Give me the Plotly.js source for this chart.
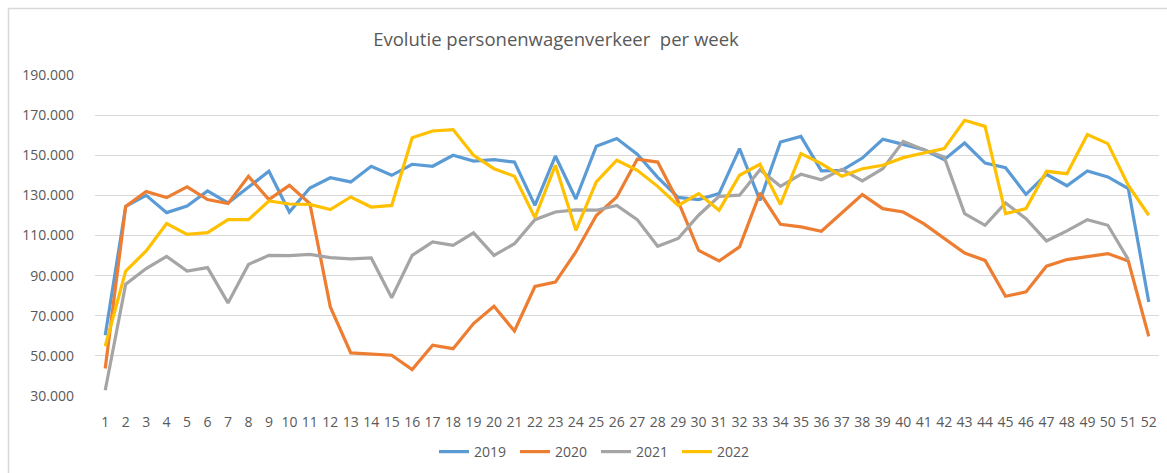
<!DOCTYPE html>
<html>
<head>
<meta charset="utf-8">
<script src="https://cdn.plot.ly/plotly-3.0.1.min.js"></script>
<style>
html,body{margin:0;padding:0;background:#fff;}
#chart{width:1167px;height:473px;}
</style>
</head>
<body>
<div id="chart"></div>
<script>
// Weekly passenger car traffic (values in thousands)
const weeks = Array.from({length: 52}, (_, i) => String(i + 1));
const seriesNames = ["2019", "2020", "2021", "2022"];
const y2019 = [60.3,124.5,130,121.4,124.7,132.2,126.2,134.2,142,121.7,133.7,138.8,136.7,144.5,140,145.5,144.5,150,147.1,147.8,146.6,125,149.6,128.2,154.5,158.3,150.5,139,129,127.9,130.9,153.3,127.5,156.6,159.4,142.2,142.5,148.6,158,155.4,152.8,147.8,156.1,146.1,143.8,130.5,140.5,134.8,142.2,139.2,133.4,76.9];
const y2020 = [43.7,124.5,131.9,128.9,134.2,127.9,125.9,139.5,127.9,135,125.9,74.4,51.5,50.8,50.3,43.2,55.3,53.6,66.1,74.7,62.4,84.6,86.8,101.8,120,129.2,148,146.6,127,102.6,97.3,104.3,131.2,115.6,114.3,112.1,121.3,130.4,123.4,121.7,115.9,108.5,101.3,97.6,79.7,81.9,94.7,98,99.6,101,97.3,59.7];
const y2021 = [32.9,85.7,93.5,99.6,92.3,94,76.4,95.6,100.1,100,100.6,99,98.3,98.8,79,100.1,106.8,105.1,111.3,100.1,105.9,117.9,121.7,122.8,122.6,125,117.9,104.6,108.5,120.1,129.5,130.1,142.8,134.5,140.5,137.8,143,137.2,143.3,156.9,152.8,149.1,120.9,115.1,126.2,118.4,107.3,112.3,117.9,115.1,98,null];
const y2022 = [54.8,92.3,102.3,115.9,110.6,111.4,117.9,117.9,127.2,125.7,125.5,122.9,129.2,124.2,125,158.7,162.1,162.8,150,143.3,139.5,118.9,145,112.6,136.7,147.5,142.5,134.5,125,130.9,122.6,140,145.5,125.5,150.8,145.8,139.5,143.3,145,148.8,151.1,153.3,167.4,164.4,120.9,123.4,142,140.8,160.3,155.8,135,120.1];
const yTickVals = [30000,50000,70000,90000,110000,130000,150000,170000,190000];
const colors = ["#5B9BD5", "#ED7D31", "#A5A5A5", "#FFC000"];

const allSeries = [y2019, y2020, y2021, y2022];
const traces = allSeries.map((arr, i) => ({
  type: "scatter",
  mode: "lines",
  name: seriesNames[i],
  x: weeks,
  y: arr.map(v => v === null ? null : v * 1000),
  line: {color: colors[i], width: 3.2, shape: "linear"},
  connectgaps: false,
  hoverinfo: "x+y+name"
}));

const fontFam = "'Open Sans', 'Liberation Sans', sans-serif";
const textCol = "#595959";

const layout = {
  width: 1167,
  height: 473,
  margin: {l: 95, r: 8, t: 75, b: 77, pad: 0},
  paper_bgcolor: "#ffffff",
  plot_bgcolor: "#ffffff",
  separators: ",.",
  font: {family: fontFam, color: textCol, size: 14},
  title: {
    text: "Evolutie personenwagenverkeer  per week",
    font: {family: fontFam, size: 18.5, color: textCol},
    xref: "container", x: 556 / 1167, xanchor: "center",
    yref: "container", y: 1 - 40 / 473, yanchor: "middle"
  },
  xaxis: {
    type: "category",
    range: [-0.5, 51.5],
    showgrid: false,
    zeroline: false,
    showline: false,
    ticks: "",
    tickfont: {family: fontFam, size: 14, color: textCol},
    ticklabelstandoff: 16,
    automargin: false,
    fixedrange: true
  },
  yaxis: {
    range: [30000, 190000],
    tickvals: yTickVals,
    tickformat: ",.0f",
    showgrid: true,
    gridcolor: "#D9D9D9",
    gridwidth: 1,
    zeroline: false,
    showline: false,
    ticks: "",
    tickfont: {family: fontFam, size: 14, color: textCol},
    ticklabelstandoff: 20,
    automargin: false,
    fixedrange: true
  },
  showlegend: true,
  legend: {
    orientation: "h",
    xref: "container", x: 596 / 1167, xanchor: "center",
    yref: "container", y: 1 - 452 / 473, yanchor: "middle",
    font: {family: fontFam, size: 14, color: textCol},
    bgcolor: "rgba(0,0,0,0)",
    itemwidth: 30,
    entrywidth: 36,
    entrywidthmode: "pixels"
  },
  shapes: [{
    type: "rect", xref: "paper", yref: "paper",
    x0: (8.5 - 95) / 1064, x1: 1.2,
    y0: -1, y1: (396 - 8.5) / 321,
    line: {color: "#D9D9D9", width: 1.5},
    fillcolor: "rgba(0,0,0,0)",
    layer: "below"
  }]
};

Plotly.newPlot("chart", traces, layout, {displayModeBar: false, staticPlot: true});
</script>
</body>
</html>
